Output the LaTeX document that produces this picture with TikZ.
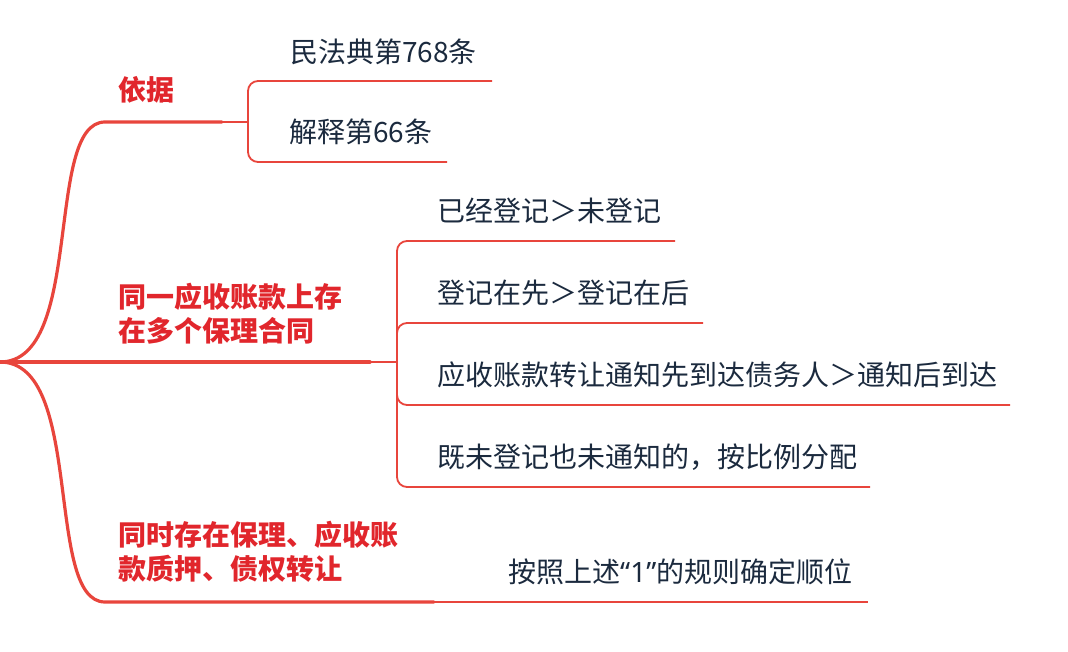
\documentclass[tikz,border=0pt]{standalone}
\usepackage{fontspec}
\setmainfont{Noto Sans CJK SC}
\newfontfamily\latinf{Noto Sans}
\definecolor{br}{HTML}{E8453C}
\definecolor{rt}{HTML}{E1262C}
\definecolor{dt}{HTML}{1B2A3E}
\begin{document}
\begin{tikzpicture}[x=1pt,y=-1pt,
  mainline/.style={draw=br,line width=3.2pt,line cap=round},
  subline/.style={draw=br,line width=1.8pt},
  bracketline/.style={draw=br,line width=1.8pt,rounded corners=10pt},
  lbl/.style={text=rt,font=\fontsize{28}{34}\selectfont\bfseries,anchor=west,inner sep=0pt,align=left},
  leaf/.style={text=dt,font=\fontsize{28}{34}\selectfont,anchor=west,inner sep=0pt}]
\useasboundingbox[fill=white] (0,0) rectangle (1068,652);
\coordinate (root) at (0,362);

% branch 1
\node[lbl] (b1) at (118,90) {依据};
\coordinate (b1s) at (105,122);
\coordinate (b1e) at (222,122);
\coordinate (b1p) at (248,122);
\draw[mainline] (root) .. controls (85,362) and (44,122) .. (b1s) -- (b1e);
\draw[subline] (b1e) -- (b1p);
\node[leaf] (l11) at (290,52) {民法典第768条};
\node[leaf] (l12) at (289,132) {解释第66条};
\coordinate (l11e) at (492,81);
\coordinate (l12e) at (447,162);
\draw[bracketline] (b1p) |- (l11e);
\draw[bracketline] (b1p) |- (l12e);

% branch 2
\node[lbl] (b2) at (118,314) {同一应收账款上存\\在多个保理合同};
\coordinate (b2e) at (370,362);
\coordinate (b2p) at (397,362);
\draw[mainline] (root) -- (b2e);
\draw[subline] (b2e) -- (b2p);
\node[leaf] (l21) at (437,211) {已经登记＞未登记};
\node[leaf] (l22) at (437,293) {登记在先＞登记在后};
\node[leaf] (l23) at (437,375) {应收账款转让通知先到达债务人＞通知后到达};
\node[leaf] (l24) at (437,457) {既未登记也未通知的，按比例分配};
\coordinate (l21e) at (675,241);
\coordinate (l22e) at (703,323);
\coordinate (l23e) at (1010,405);
\coordinate (l24e) at (870,487);
\draw[bracketline] (b2p) |- (l21e);
\draw[bracketline] (b2p) |- (l22e);
\draw[bracketline] (b2p) |- (l23e);
\draw[bracketline] (b2p) |- (l24e);

% branch 3
\node[lbl] (b3) at (118,552) {同时存在保理、应收账\\款质押、债权转让};
\coordinate (b3s) at (105,602);
\coordinate (b3e) at (434,602);
\coordinate (l31e) at (868,602);
\draw[mainline] (root) .. controls (85,362) and (44,602) .. (b3s) -- (b3e);
\draw[subline] (b3e) -- (l31e);
\node[leaf] (l31) at (508,572) {按照上述{\latinf “1”}的规则确定顺位};
\end{tikzpicture}
\end{document}
